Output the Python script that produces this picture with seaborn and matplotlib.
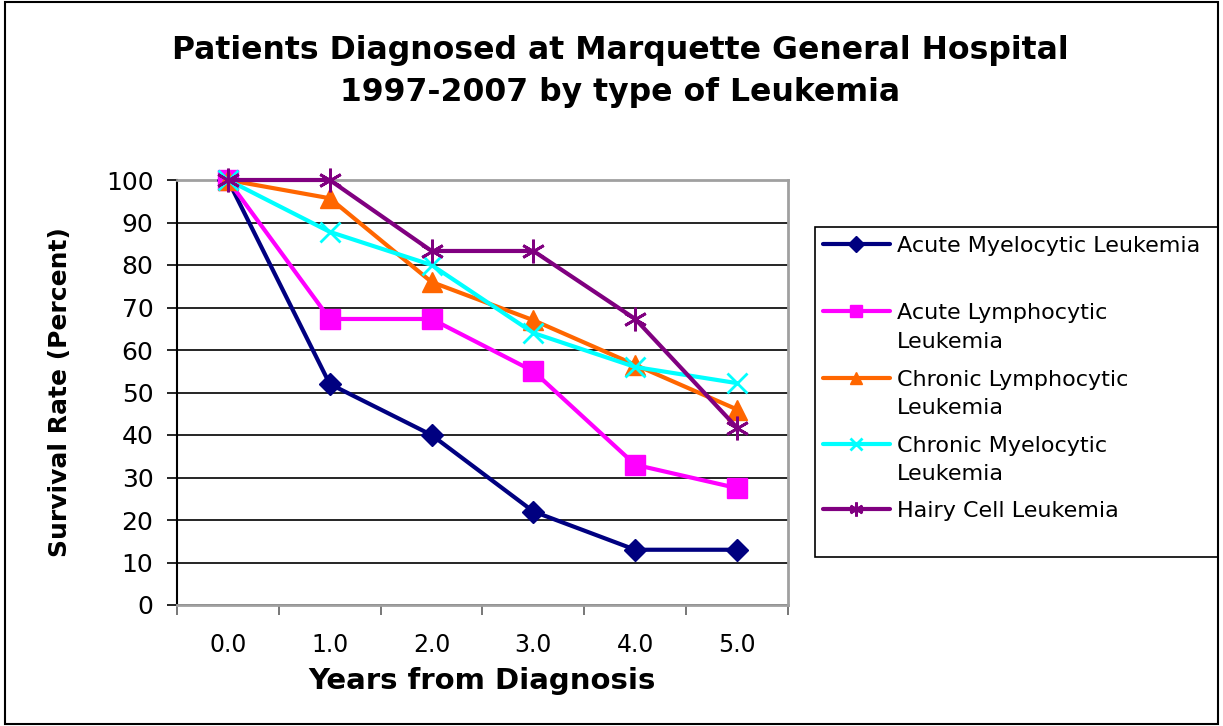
import numpy as np
import pandas as pd
import matplotlib
matplotlib.use("Agg")
import matplotlib.pyplot as plt
import seaborn as sns
from matplotlib.patches import Rectangle
from matplotlib.lines import Line2D

years = ["0.0", "1.0", "2.0", "3.0", "4.0", "5.0"]
aml = [100, 52, 40, 22, 13, 13]
all_ = [100, 67.3, 67.3, 55, 33, 27.5]
cll = [100, 95.7, 76, 67, 56.5, 46]
cml = [100, 87.8, 80, 64, 56, 52.2]
hcl = [100, 100, 83.3, 83.3, 67.3, 41.7]

names = ["Acute Myelocytic Leukemia", "Acute Lymphocytic\nLeukemia",
         "Chronic Lymphocytic\nLeukemia", "Chronic Myelocytic\nLeukemia",
         "Hairy Cell Leukemia"]
values = [aml, all_, cll, cml, hcl]
colors = ["#000080", "#FF00FF", "#FF6600", "#00FFFF", "#800080"]
markers = ["D", "s", "^", "x", (6, 2, 0)]
msizes = [11, 14, 15, 15, 17]
leg_msizes = [8, 8, 9, 9, 10]

sns.set_style("white")
plt.rcParams["font.family"] = ["DejaVu Sans"]
for k in ["text.color", "axes.labelcolor", "xtick.color", "ytick.color"]:
    plt.rcParams[k] = "black"

W, H = 1223, 726
fig = plt.figure(figsize=(W / 100, H / 100), dpi=100)
ax = fig.add_axes([177 / W, 1 - 605 / H, (788 - 177) / W, (605 - 180) / H])

pos = np.arange(len(years))
for name, vals, c, m, ms in zip(names, values, colors, markers, msizes):
    df = pd.DataFrame({"x": pos, "y": vals})
    sns.lineplot(data=df, x="x", y="y", ax=ax, color=c, marker=m, markersize=ms,
                 linewidth=3, markeredgecolor=c, markeredgewidth=2 if m in ("x", (6, 2, 0)) else 1,
                 clip_on=False, zorder=3, legend=False)

ax.set_xlim(-0.5, len(years) - 0.5)
ax.set_ylim(0, 100)
ax.set_yticks(np.arange(0, 101, 10))
ax.tick_params(axis="y", labelsize=18, length=7, width=1.2, direction="out", left=True, pad=10)
ax.set_xticks(pos)
ax.set_xticklabels(years)
ax.set_xticks(np.arange(-0.5, len(years), 1), minor=True)
ax.tick_params(axis="x", which="major", length=0, labelsize=17, pad=20)
ax.tick_params(axis="x", which="minor", length=7, width=1.2, direction="out", bottom=True, color="#606060")
ax.yaxis.grid(True, color="black", linewidth=1.2)
ax.set_axisbelow(True)
for s in ["top", "right", "bottom"]:
    ax.spines[s].set_color("#a0a0a0")
    ax.spines[s].set_linewidth(2)
ax.spines["left"].set_color("black")
ax.spines["left"].set_linewidth(1.5)

ax.set_xlabel("Years from Diagnosis", fontsize=21, fontweight="bold")
ax.set_ylabel("Survival Rate (Percent)", fontsize=18, fontweight="bold")
ax.xaxis.set_label_coords(0.5, (605 - 667) / 425)
ax.yaxis.set_label_coords((72 - 177) / 611, 0.5)

fig.text(620 / W, 1 - 50 / H, "Patients Diagnosed at Marquette General Hospital",
         ha="center", va="center", fontsize=22.7, fontweight="bold")
fig.text(620 / W, 1 - 93 / H, "1997-2007 by type of Leukemia",
         ha="center", va="center", fontsize=22.7, fontweight="bold")

# legend drawn by hand so handles sit on the first text line
fig.patches.append(Rectangle((815 / W, 1 - 557 / H), (1218 - 815) / W, (557 - 227) / H,
                             transform=fig.transFigure, fill=False, edgecolor="black", linewidth=1.2))
rows = [244, 311, 378, 444, 509]
for name, c, m, lms, py in zip(names, colors, markers, leg_msizes, rows):
    fy = 1 - py / H
    fig.add_artist(Line2D([823 / W, 890 / W], [fy, fy], transform=fig.transFigure, color=c, linewidth=3))
    fig.add_artist(Line2D([856 / W], [fy], transform=fig.transFigure, color=c, marker=m, markersize=lms,
                          markeredgecolor=c, markeredgewidth=2 if m in ("x", (6, 2, 0)) else 1))
    for i, line in enumerate(name.split("\n")):
        fig.text(897 / W, 1 - (py + i * 28.5) / H, line, ha="left", va="center_baseline", fontsize=16)

fig.patches.append(Rectangle((0.004, 0.003), 0.992, 0.994, transform=fig.transFigure,
                             fill=False, edgecolor="black", linewidth=1.5))

fig.savefig("out.png", dpi=100)
